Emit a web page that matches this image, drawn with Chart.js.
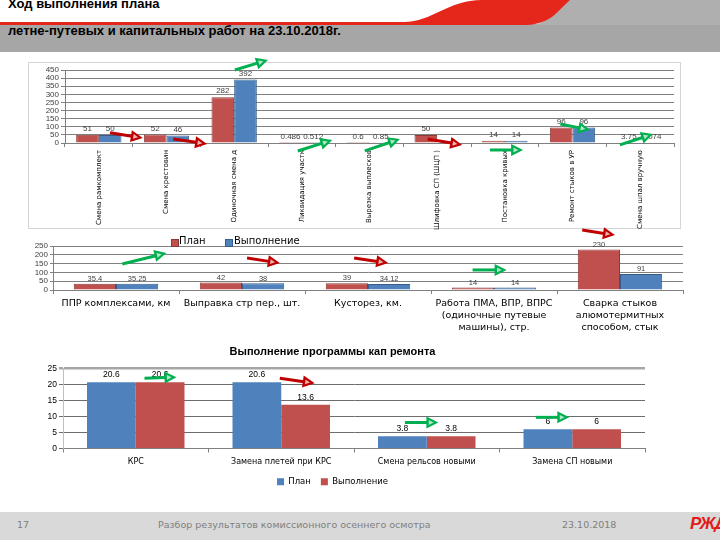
<!DOCTYPE html>
<html><head><meta charset="utf-8">
<script src="https://cdn.jsdelivr.net/npm/chart.js@4.4.0/dist/chart.umd.min.js"></script>
<style>
html,body{margin:0;padding:0;background:#fff;}
#page{position:relative;width:720px;height:540px;overflow:hidden;font-family:'Liberation Sans',Arial,sans-serif;}
canvas{position:absolute;}
.t{position:absolute;white-space:nowrap;}
.sq{position:absolute;width:7px;height:7px;}
</style></head><body><div id="page">
<svg width="720" height="60" style="position:absolute;left:0;top:0">
 <rect x="0" y="24" width="720" height="28" fill="#a6a6a6"/>
 <path d="M552,0 L720,0 L720,25 L534,25 C549,22 556,8 562,0 Z" fill="#afafaf"/>
 <path d="M0,22 L404,22 C432,22 448,0 482,0 L570,0 C558,10 552,24 526,25 L0,25 Z" fill="#e5261b"/>
</svg>
<div class="t" style="left:8px;top:-4px;font:bold 13px 'Liberation Sans';color:#000">Ход выполнения плана</div>
<div class="t" style="left:8px;top:23px;font:bold 13px 'Liberation Sans';color:#000">летне-путевых и капитальных работ на 23.10.2018г.</div>

<div style="position:absolute;left:28px;top:62px;width:651px;height:165px;border:1px solid #d4d4d4"></div>
<canvas id="c1" width="670" height="175" style="left:20px;top:55px"></canvas>
<canvas id="c2" width="670" height="110" style="left:20px;top:222px"></canvas>
<div class="sq" style="left:171px;top:239px;background:#c0504d;border:1px solid #8c3836;width:6px;height:6px"></div>
<div class="t" style="left:179px;top:235px;font:10px 'DejaVu Sans';color:#000">План</div>
<div class="sq" style="left:225px;top:239px;background:#4f81bd;border:1px solid #385d8a;width:6px;height:6px"></div>
<div class="t" style="left:234px;top:235px;font:10px 'DejaVu Sans';color:#000">Выполнение</div>
<canvas id="c3" width="670" height="156" style="left:20px;top:340px"></canvas>

<div style="position:absolute;left:0;top:512px;width:720px;height:28px;background:#d9d9d9"></div>
<div class="t" style="left:17px;top:519px;font:9.5px 'DejaVu Sans';color:#7f7f7f">17</div>
<div class="t" style="left:158px;top:519px;font:9.5px 'DejaVu Sans';color:#7f7f7f">Разбор результатов комиссионного осеннего осмотра</div>
<div class="t" style="left:562px;top:519px;font:9.5px 'DejaVu Sans';color:#7f7f7f">23.10.2018</div>
<div class="t" style="left:690px;top:514px;font:italic bold 17px 'Liberation Sans';color:#e21a1a;letter-spacing:-1px">РЖД</div>
</div>
<script>
// ---- data ----
const topCats = ['Смена рамкомплект','Смена крестовин','Одиночная смена д','Ликвидация участк','Вырезка выплесков','Шлифовка СП (ШЦП )','Постановка кривых','Ремонт стыков в УР','Смена шпал вручную'];
const topPlan = [51, 52, 282, 0.486, 0.6, 50, 14, 96, 3.75];
const topDone = [50, 46, 392, 0.512, 0.85, null, 14, 96, 3.074];

const midCats = [['ППР комплексами, км'],['Выправка стр пер., шт.'],['Кусторез, км.'],['Работа ПМА, ВПР, ВПРС','(одиночные путевые','машины), стр.'],['Сварка стыков','алюмотермитных','способом, стык']];
const midPlan = [35.4, 42, 39, 14, 230];
const midDone = [35.25, 38, 34.12, 14, 91];

const capCats = ['КРС','Замена плетей при КРС','Смена рельсов новыми','Замена СП новыми'];
const capPlan = [20.6, 20.6, 3.8, 6];
const capDone = [20.6, 13.6, 3.8, 6];

const seriesNames = ['План','Выполнение'];
const capTitle = 'Выполнение программы кап ремонта';

// arrow annotations (category units, value units)
const topArrows = [
 {from:[0.165,63],to:[0.65,31],ok:false},
 {from:[1.1,25],to:[1.6,-6],ok:false},
 {from:[2.01,450],to:[2.5,512],ok:true},
 {from:[2.94,-49],to:[3.45,18],ok:true},
 {from:[3.93,-49],to:[4.45,25],ok:true},
 {from:[4.86,25],to:[5.37,-12],ok:false},
 {from:[5.78,-43],to:[6.27,-43],ok:true},
 {from:[6.82,117],to:[7.26,80],ok:true},
 {from:[7.7,-12],to:[8.19,55],ok:true}
];
const midArrows = [
 {from:[0.05,148],to:[0.4,210],ok:true},
 {from:[1.04,182],to:[1.3,153],ok:false},
 {from:[1.89,182],to:[2.16,153],ok:false},
 {from:[2.83,114],to:[3.1,114],ok:true},
 {from:[3.7,341],to:[3.96,312],ok:false}
];
const capArrows = [
 {from:[0.06,21.9],to:[0.28,22.2],ok:true},
 {from:[0.99,21.9],to:[1.23,20.3],ok:false},
 {from:[1.85,8.1],to:[2.08,8.1],ok:true},
 {from:[2.75,9.7],to:[2.98,9.7],ok:true}
];

const RED='#c0504d', BLUE='#4f81bd';

const valueLabels = {
  id:'valueLabels',
  afterDatasetsDraw(chart, args, opts){
    const ctx = chart.ctx; ctx.save();
    ctx.font = opts.font; ctx.fillStyle = opts.color; ctx.textAlign='center'; ctx.textBaseline='bottom';
    chart.data.datasets.forEach((ds,di)=>{
      const meta = chart.getDatasetMeta(di);
      meta.data.forEach((bar,i)=>{
        const v = ds.data[i]; if (v==null) return;
        ctx.fillText(String(v), bar.x, bar.y - (opts.offset||2));
      });
    });
    ctx.restore();
  }
};
const arrowsPlugin = {
  id:'arrows',
  afterDraw(chart, args, opts){
    const xs = chart.scales.x, ys = chart.scales.y, ctx = chart.ctx;
    (opts.list||[]).forEach(a=>{
      const x1 = xs.getPixelForValue(a.from[0]), y1 = ys.getPixelForValue(a.from[1]);
      const x2 = xs.getPixelForValue(a.to[0]), y2 = ys.getPixelForValue(a.to[1]);
      const col = a.ok ? '#00b050' : '#c00000';
      const ang = Math.atan2(y2-y1,x2-x1);
      const L=12, W=6;
      const bx = x2 - L*Math.cos(ang), by = y2 - L*Math.sin(ang);
      const px = -Math.sin(ang), py = Math.cos(ang);
      ctx.save();
      ctx.strokeStyle=col; ctx.lineWidth=3;
      ctx.beginPath(); ctx.moveTo(x1,y1); ctx.lineTo(bx+Math.cos(ang),by+Math.sin(ang)); ctx.stroke();
      const pts=[[x2,y2],[bx+px*W,by+py*W],[bx-px*W,by-py*W]];
      ctx.fillStyle=col; ctx.beginPath();
      pts.forEach((p,k)=>k?ctx.lineTo(p[0],p[1]):ctx.moveTo(p[0],p[1])); ctx.closePath(); ctx.fill();
      const cx=(pts[0][0]+pts[1][0]+pts[2][0])/3, cy=(pts[0][1]+pts[1][1]+pts[2][1])/3, s=0.4;
      ctx.fillStyle='rgba(255,255,255,0.7)'; ctx.beginPath();
      pts.forEach((p,k)=>{const X=cx+(p[0]-cx)*s, Y=cy+(p[1]-cy)*s; k?ctx.lineTo(X,Y):ctx.moveTo(X,Y);});
      ctx.closePath(); ctx.fill();
      ctx.restore();
    });
  }
};

function ds(label, data, color, border, bw){
  return {label, data, backgroundColor:color, borderColor:border, borderWidth:bw, categoryPercentage:0.67, barPercentage:1};
}

// ---- chart 1 ----
new Chart(document.getElementById('c1'), {
  type:'bar',
  data:{labels:topCats, datasets:[ds(seriesNames[0],topPlan,RED,'#8c3836',1), ds(seriesNames[1],topDone,BLUE,'#385d8a',1)]},
  options:{responsive:false, animation:false,
    layout:{padding:{top:15,right:16,left:0,bottom:0}},
    plugins:{legend:{display:false}, tooltip:{enabled:false},
      valueLabels:{font:"8px 'Liberation Sans'", color:'#404040', offset:2},
      arrows:{list:topArrows}},
    scales:{
      x:{grid:{offset:true, drawOnChartArea:false, tickLength:4, color:'#808080'}, border:{color:'#808080'},
         ticks:{minRotation:90,maxRotation:90,autoSkip:false,padding:3,font:{family:'DejaVu Sans',size:7},color:'#000'},
         afterFit(s){s.height=87;}},
      y:{min:0,max:450, ticks:{stepSize:50,autoSkip:false,padding:2,font:{family:'Liberation Sans',size:8},color:'#404040'},
         grid:{color:'#808080',tickLength:4}, border:{color:'#808080'}, afterFit(s){s.width=45;}}
    }},
  plugins:[valueLabels, arrowsPlugin]
});

// ---- chart 2 ----
new Chart(document.getElementById('c2'), {
  type:'bar',
  data:{labels:midCats, datasets:[ds(seriesNames[0],midPlan,RED,'#8c3836',1), ds(seriesNames[1],midDone,BLUE,'#385d8a',1)]},
  options:{responsive:false, animation:false,
    layout:{padding:{top:24,right:7,left:0,bottom:0}},
    plugins:{legend:{display:false}, tooltip:{enabled:false},
      valueLabels:{font:"7.5px 'Liberation Sans'", color:'#404040', offset:1},
      arrows:{list:midArrows}},
    scales:{
      x:{grid:{offset:true, drawOnChartArea:false, tickLength:4, color:'#808080'}, border:{color:'#808080'},
         ticks:{maxRotation:0,autoSkip:false,padding:3,font:{family:'DejaVu Sans',size:9.5,lineHeight:1.3},color:'#000'},
         afterFit(s){s.height=42;}},
      y:{min:0,max:250, ticks:{stepSize:50,autoSkip:false,padding:2,font:{family:'Liberation Sans',size:8},color:'#404040'},
         grid:{color:'#808080',tickLength:3}, border:{color:'#808080'}, afterFit(s){s.width=33;}}
    }},
  plugins:[valueLabels, arrowsPlugin]
});

// ---- chart 3 ----
new Chart(document.getElementById('c3'), {
  type:'bar',
  data:{labels:capCats, datasets:[ds(seriesNames[0],capPlan,BLUE,BLUE,0), ds(seriesNames[1],capDone,RED,RED,0)]},
  options:{responsive:false, animation:false,
    layout:{padding:{top:0,right:45,left:0,bottom:0}},
    plugins:{
      title:{display:true,text:capTitle,color:'#000',font:{family:'Liberation Sans',size:11,weight:'bold'},padding:{top:5,bottom:10}},
      legend:{position:'bottom',labels:{boxWidth:7,boxHeight:7,padding:10,color:'#000',font:{family:'DejaVu Sans',size:8.5}}},
      tooltip:{enabled:false},
      valueLabels:{font:"8.5px 'Liberation Sans'", color:'#000', offset:3},
      arrows:{list:capArrows}},
    scales:{
      x:{grid:{offset:true, drawOnChartArea:false, tickLength:4, color:'#808080'}, border:{color:'#808080'},
         ticks:{maxRotation:0,autoSkip:false,padding:5,font:{family:'DejaVu Sans',size:8},color:'#000'},
         afterFit(s){s.height=19;}},
      y:{min:0,max:25, ticks:{stepSize:5,autoSkip:false,padding:2,font:{family:'Liberation Sans',size:8.5},color:'#000'},
         grid:{color:c=>c.tick&&c.tick.value===25?'#a6a6a6':'#6d6d6d', lineWidth:c=>c.tick&&c.tick.value===25?2.5:1, tickLength:4},
         border:{color:'#bfbfbf'}, afterFit(s){s.width=43;}}
    }},
  plugins:[valueLabels, arrowsPlugin]
});
</script>
</body></html>
